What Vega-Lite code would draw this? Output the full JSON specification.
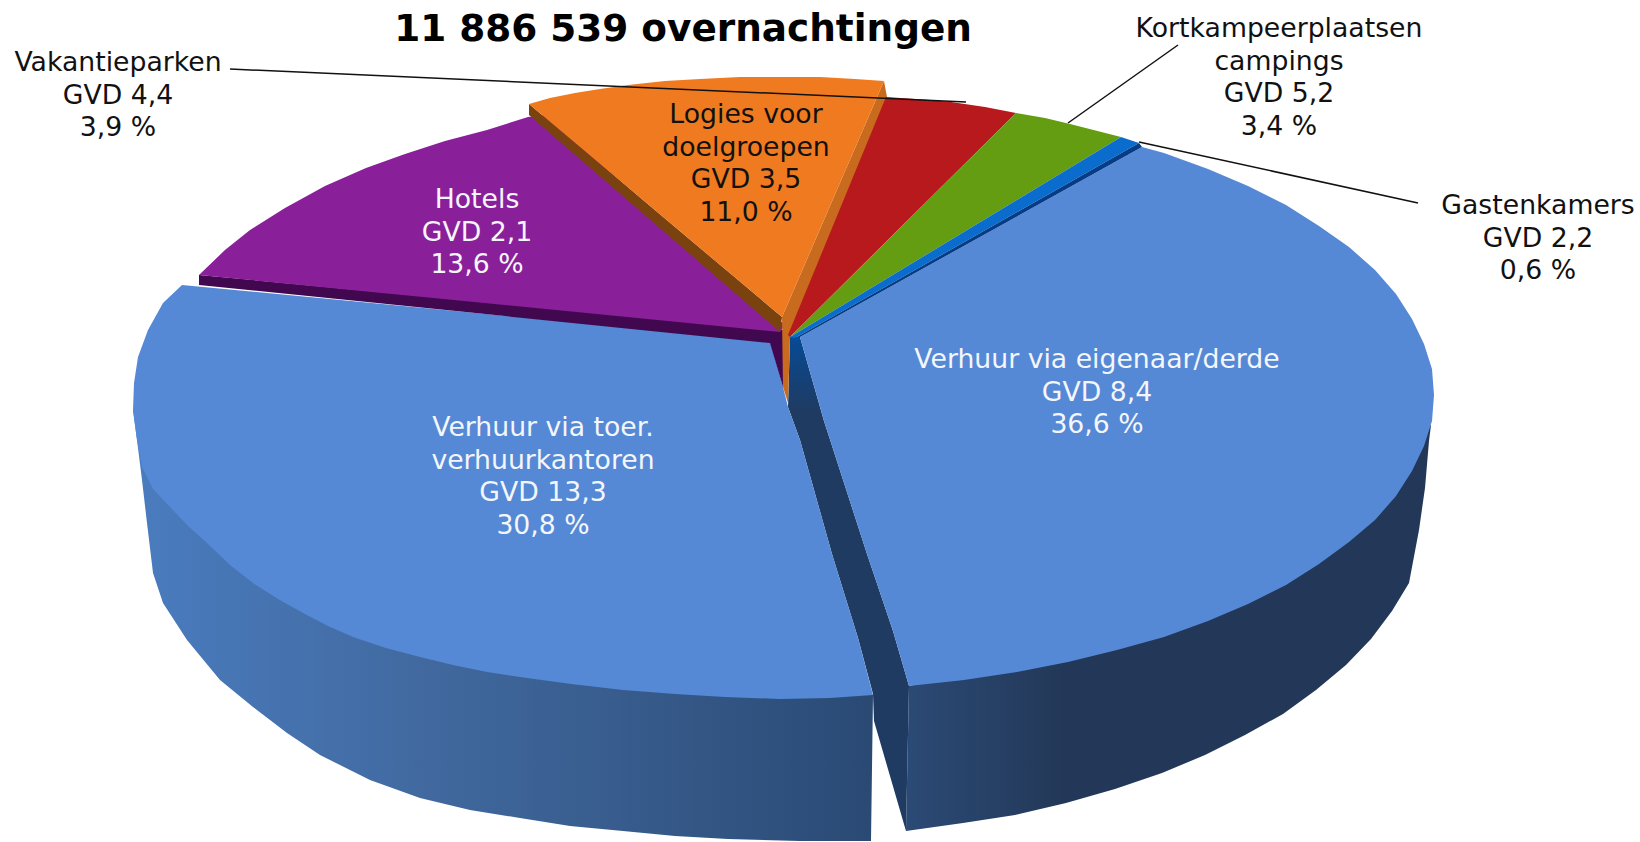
{"$schema":"https://vega.github.io/schema/vega-lite/v6.json","autosize":{"type":"fit","contains":"padding"},"width":1640,"height":842,"padding":0,"background":"white","config":{"view":{"stroke":null}},
"datasets":{
"slices":[
{"slice":"Verhuur via toer. verhuurkantoren","gvd":13.3,"share":30.8,"label":"Verhuur via toer.\nverhuurkantoren\nGVD 13,3\n30,8 %","x":543,"y":428,"tone":"light"},
{"slice":"Verhuur via eigenaar/derde","gvd":8.4,"share":36.6,"label":"Verhuur via eigenaar/derde\nGVD 8,4\n36,6 %","x":1097,"y":360,"tone":"light"},
{"slice":"Hotels","gvd":2.1,"share":13.6,"label":"Hotels\nGVD 2,1\n13,6 %","x":477,"y":200,"tone":"light"},
{"slice":"Logies voor doelgroepen","gvd":3.5,"share":11.0,"label":"Logies voor\ndoelgroepen\nGVD 3,5\n11,0 %","x":746,"y":115,"tone":"dark"},
{"slice":"Vakantieparken","gvd":4.4,"share":3.9,"label":"Vakantieparken\nGVD 4,4\n3,9 %","x":118,"y":63,"tone":"dark"},
{"slice":"Kortkampeerplaatsen campings","gvd":5.2,"share":3.4,"label":"Kortkampeerplaatsen\ncampings\nGVD 5,2\n3,4 %","x":1279,"y":29,"tone":"dark"},
{"slice":"Gastenkamers","gvd":2.2,"share":0.6,"label":"Gastenkamers\nGVD 2,2\n0,6 %","x":1538,"y":206,"tone":"dark"}
],
"wallLeft":[
{"o":1,"x":133,"y":410},{"o":2,"x":137,"y":440},{"o":3,"x":142,"y":480},{"o":4,"x":147,"y":523},{"o":5,"x":153,"y":573},{"o":6,"x":163,"y":603},{"o":7,"x":187,"y":640},{"o":8,"x":220,"y":680},{"o":9,"x":253,"y":707},{"o":10,"x":287,"y":733},{"o":11,"x":320,"y":755},{"o":12,"x":370,"y":780},{"o":13,"x":420,"y":798},{"o":14,"x":470,"y":810},{"o":15,"x":520,"y":818},{"o":16,"x":570,"y":826},{"o":17,"x":623,"y":831},{"o":18,"x":675,"y":836},{"o":19,"x":728,"y":839},{"o":20,"x":800,"y":841},{"o":21,"x":871,"y":841},{"o":22,"x":873,"y":695},{"o":23,"x":780,"y":690},{"o":24,"x":500,"y":600}],
"wallRight":[
{"o":1,"x":1431,"y":425},{"o":2,"x":1429,"y":441},{"o":3,"x":1425,"y":488},{"o":4,"x":1419,"y":530},{"o":5,"x":1409,"y":583},{"o":6,"x":1392,"y":611},{"o":7,"x":1371,"y":639},{"o":8,"x":1346,"y":665},{"o":9,"x":1316,"y":690},{"o":10,"x":1283,"y":714},{"o":11,"x":1245,"y":735},{"o":12,"x":1205,"y":755},{"o":13,"x":1162,"y":773},{"o":14,"x":1115,"y":789},{"o":15,"x":1066,"y":803},{"o":16,"x":1015,"y":815},{"o":17,"x":963,"y":823},{"o":18,"x":906,"y":831},{"o":19,"x":909,"y":686},{"o":20,"x":1100,"y":640}],
"cut":[
{"o":1,"x":790,"y":337},{"o":2,"x":800,"y":337},{"o":3,"x":824,"y":421},{"o":4,"x":867,"y":554},{"o":5,"x":893,"y":631},{"o":6,"x":909,"y":686},{"o":7,"x":906,"y":831},{"o":8,"x":874,"y":721},{"o":9,"x":873,"y":694},{"o":10,"x":858,"y":638},{"o":11,"x":832,"y":554},{"o":12,"x":800,"y":440},{"o":13,"x":788,"y":407}],
"faces":[
{"part":"a toer","o":1,"x":182,"y":285},{"part":"a toer","o":2,"x":770,"y":341},{"part":"a toer","o":3,"x":783,"y":387},{"part":"a toer","o":4,"x":788,"y":407},{"part":"a toer","o":5,"x":800,"y":440},{"part":"a toer","o":6,"x":832,"y":554},{"part":"a toer","o":7,"x":858,"y":638},{"part":"a toer","o":8,"x":873,"y":695},{"part":"a toer","o":9,"x":830,"y":698},{"part":"a toer","o":10,"x":780,"y":699},{"part":"a toer","o":11,"x":725,"y":697},{"part":"a toer","o":12,"x":675,"y":694},{"part":"a toer","o":13,"x":623,"y":690},{"part":"a toer","o":14,"x":571,"y":684},{"part":"a toer","o":15,"x":520,"y":677},{"part":"a toer","o":16,"x":487,"y":672},{"part":"a toer","o":17,"x":453,"y":665},{"part":"a toer","o":18,"x":420,"y":657},{"part":"a toer","o":19,"x":386,"y":648},{"part":"a toer","o":20,"x":353,"y":637},{"part":"a toer","o":21,"x":328,"y":626},{"part":"a toer","o":22,"x":303,"y":613},{"part":"a toer","o":23,"x":278,"y":599},{"part":"a toer","o":24,"x":253,"y":583},{"part":"a toer","o":25,"x":230,"y":565},{"part":"a toer","o":26,"x":207,"y":543},{"part":"a toer","o":27,"x":188,"y":526},{"part":"a toer","o":28,"x":170,"y":507},{"part":"a toer","o":29,"x":153,"y":489},{"part":"a toer","o":30,"x":142,"y":467},{"part":"a toer","o":31,"x":137,"y":440},{"part":"a toer","o":32,"x":133,"y":410},{"part":"a toer","o":33,"x":134,"y":383},{"part":"a toer","o":34,"x":138,"y":357},{"part":"a toer","o":35,"x":148,"y":330},{"part":"a toer","o":36,"x":163,"y":303},
{"part":"b eigenaar","o":1,"x":800,"y":337},{"part":"b eigenaar","o":2,"x":1142,"y":147},{"part":"b eigenaar","o":3,"x":1164,"y":153},{"part":"b eigenaar","o":4,"x":1208,"y":169},{"part":"b eigenaar","o":5,"x":1248,"y":186},{"part":"b eigenaar","o":6,"x":1286,"y":205},{"part":"b eigenaar","o":7,"x":1319,"y":226},{"part":"b eigenaar","o":8,"x":1349,"y":247},{"part":"b eigenaar","o":9,"x":1375,"y":270},{"part":"b eigenaar","o":10,"x":1396,"y":294},{"part":"b eigenaar","o":11,"x":1412,"y":319},{"part":"b eigenaar","o":12,"x":1424,"y":344},{"part":"b eigenaar","o":13,"x":1432,"y":369},{"part":"b eigenaar","o":14,"x":1434,"y":395},{"part":"b eigenaar","o":15,"x":1432,"y":421},{"part":"b eigenaar","o":16,"x":1424,"y":446},{"part":"b eigenaar","o":17,"x":1412,"y":471},{"part":"b eigenaar","o":18,"x":1396,"y":496},{"part":"b eigenaar","o":19,"x":1375,"y":520},{"part":"b eigenaar","o":20,"x":1349,"y":542},{"part":"b eigenaar","o":21,"x":1319,"y":564},{"part":"b eigenaar","o":22,"x":1286,"y":585},{"part":"b eigenaar","o":23,"x":1248,"y":604},{"part":"b eigenaar","o":24,"x":1208,"y":621},{"part":"b eigenaar","o":25,"x":1164,"y":637},{"part":"b eigenaar","o":26,"x":1117,"y":650},{"part":"b eigenaar","o":27,"x":1068,"y":662},{"part":"b eigenaar","o":28,"x":1017,"y":672},{"part":"b eigenaar","o":29,"x":964,"y":680},{"part":"b eigenaar","o":30,"x":909,"y":686},{"part":"b eigenaar","o":31,"x":893,"y":631},{"part":"b eigenaar","o":32,"x":867,"y":554},{"part":"b eigenaar","o":33,"x":824,"y":421},
{"part":"c hotels zijkant","o":1,"x":199,"y":275},{"part":"c hotels zijkant","o":2,"x":199,"y":285},{"part":"c hotels zijkant","o":3,"x":770,"y":343},{"part":"c hotels zijkant","o":4,"x":783,"y":387},{"part":"c hotels zijkant","o":5,"x":783,"y":330},
{"part":"d hotels","o":1,"x":199,"y":275},{"part":"d hotels","o":2,"x":225,"y":250},{"part":"d hotels","o":3,"x":250,"y":230},{"part":"d hotels","o":4,"x":285,"y":208},{"part":"d hotels","o":5,"x":325,"y":186},{"part":"d hotels","o":6,"x":366,"y":168},{"part":"d hotels","o":7,"x":405,"y":154},{"part":"d hotels","o":8,"x":445,"y":141},{"part":"d hotels","o":9,"x":487,"y":130},{"part":"d hotels","o":10,"x":528,"y":117},{"part":"d hotels","o":11,"x":545,"y":115},{"part":"d hotels","o":12,"x":785,"y":325},{"part":"d hotels","o":13,"x":780,"y":332},
{"part":"e logies zijkant","o":1,"x":884,"y":81},{"part":"e logies zijkant","o":2,"x":887,"y":97},{"part":"e logies zijkant","o":3,"x":790,"y":338},{"part":"e logies zijkant","o":4,"x":788,"y":403},{"part":"e logies zijkant","o":5,"x":783,"y":387},{"part":"e logies zijkant","o":6,"x":782,"y":317},
{"part":"f logies rand","o":1,"x":529,"y":104},{"part":"f logies rand","o":2,"x":529,"y":115},{"part":"f logies rand","o":3,"x":780,"y":332},{"part":"f logies rand","o":4,"x":782,"y":317},
{"part":"g logies","o":1,"x":529,"y":104},{"part":"g logies","o":2,"x":550,"y":98},{"part":"g logies","o":3,"x":575,"y":93},{"part":"g logies","o":4,"x":600,"y":89},{"part":"g logies","o":5,"x":628,"y":85},{"part":"g logies","o":6,"x":665,"y":81},{"part":"g logies","o":7,"x":700,"y":79},{"part":"g logies","o":8,"x":740,"y":77},{"part":"g logies","o":9,"x":780,"y":77},{"part":"g logies","o":10,"x":820,"y":77},{"part":"g logies","o":11,"x":855,"y":79},{"part":"g logies","o":12,"x":884,"y":81},{"part":"g logies","o":13,"x":782,"y":317},
{"part":"h vakantieparken","o":1,"x":886,"y":97},{"part":"h vakantieparken","o":2,"x":930,"y":100},{"part":"h vakantieparken","o":3,"x":951,"y":102},{"part":"h vakantieparken","o":4,"x":985,"y":107},{"part":"h vakantieparken","o":5,"x":1016,"y":113},{"part":"h vakantieparken","o":6,"x":790,"y":337},{"part":"h vakantieparken","o":7,"x":788,"y":335},
{"part":"i kortkamp","o":1,"x":1016,"y":113},{"part":"i kortkamp","o":2,"x":1045,"y":118},{"part":"i kortkamp","o":3,"x":1070,"y":124},{"part":"i kortkamp","o":4,"x":1121,"y":137},{"part":"i kortkamp","o":5,"x":790,"y":337},
{"part":"j gastenkamers","o":1,"x":1121,"y":137},{"part":"j gastenkamers","o":2,"x":1139,"y":143},{"part":"j gastenkamers","o":3,"x":795,"y":338},{"part":"j gastenkamers","o":4,"x":790,"y":337},
{"part":"k gastenkamers rand","o":1,"x":1139,"y":143},{"part":"k gastenkamers rand","o":2,"x":1142,"y":147},{"part":"k gastenkamers rand","o":3,"x":800,"y":337},{"part":"k gastenkamers rand","o":4,"x":795,"y":338}
],
"leaders":[
{"to":"Vakantieparken","o":1,"x":230,"y":69},{"to":"Vakantieparken","o":2,"x":966,"y":102},
{"to":"Kortkampeerplaatsen","o":1,"x":1178,"y":45},{"to":"Kortkampeerplaatsen","o":2,"x":1068,"y":123},
{"to":"Gastenkamers","o":1,"x":1139,"y":142},{"to":"Gastenkamers","o":2,"x":1418,"y":203}
],
"title":[{"text":"11 886 539 overnachtingen","x":683,"y":30}]
},
"layer":[
{"data":{"name":"wallLeft"},"mark":{"type":"line","interpolate":"linear-closed","fill":{"gradient":"linear","x1":0,"x2":1,"y1":0,"y2":0,"stops":[{"offset":0,"color":"#4a7cbf"},{"offset":0.4,"color":"#41699f"},{"offset":1,"color":"#2a4a74"}]},"strokeWidth":0},"encoding":{"x":{"field":"x","type":"quantitative","scale":{"domain":[0,1640]},"axis":null},"y":{"field":"y","type":"quantitative","scale":{"domain":[842,0]},"axis":null},"order":{"field":"o"}}},
{"data":{"name":"wallRight"},"mark":{"type":"line","interpolate":"linear-closed","fill":{"gradient":"linear","x1":0,"x2":1,"y1":0,"y2":0,"stops":[{"offset":0,"color":"#2b4a75"},{"offset":0.3,"color":"#233858"},{"offset":1,"color":"#233858"}]},"strokeWidth":0},"encoding":{"x":{"field":"x","type":"quantitative","scale":{"domain":[0,1640]},"axis":null},"y":{"field":"y","type":"quantitative","scale":{"domain":[842,0]},"axis":null},"order":{"field":"o"}}},
{"data":{"name":"cut"},"mark":{"type":"line","interpolate":"linear-closed","fill":{"gradient":"linear","x1":0,"x2":0,"y1":0,"y2":1,"stops":[{"offset":0,"color":"#064a96"},{"offset":0.15,"color":"#1f3b62"},{"offset":1,"color":"#1f3b62"}]},"strokeWidth":0},"encoding":{"x":{"field":"x","type":"quantitative","scale":{"domain":[0,1640]},"axis":null},"y":{"field":"y","type":"quantitative","scale":{"domain":[842,0]},"axis":null},"order":{"field":"o"}}},
{"data":{"name":"faces"},"mark":{"type":"line","interpolate":"linear-closed","filled":true,"strokeWidth":0},"encoding":{"x":{"field":"x","type":"quantitative","scale":{"domain":[0,1640]},"axis":null},"y":{"field":"y","type":"quantitative","scale":{"domain":[842,0]},"axis":null},"order":{"field":"o"},"color":{"field":"part","type":"nominal","legend":null,"scale":{"domain":["a toer","b eigenaar","c hotels zijkant","d hotels","e logies zijkant","f logies rand","g logies","h vakantieparken","i kortkamp","j gastenkamers","k gastenkamers rand"],"range":["#5589d5","#5589d5","#42084f","#892099","#c96b1e","#7a420f","#ef7a1f","#b7191c","#649c12","#0a6ccc","#043c88"]}}}},
{"data":{"name":"leaders"},"mark":{"type":"line","color":"#111111","strokeWidth":1.5},"encoding":{"x":{"field":"x","type":"quantitative","scale":{"domain":[0,1640]},"axis":null},"y":{"field":"y","type":"quantitative","scale":{"domain":[842,0]},"axis":null},"order":{"field":"o"},"detail":{"field":"to"}}},
{"data":{"name":"slices"},"mark":{"type":"text","font":"DejaVu Sans","fontSize":26.7,"lineBreak":"\n","lineHeight":32.7,"align":"center","baseline":"middle"},"encoding":{"x":{"field":"x","type":"quantitative","scale":{"domain":[0,1640]},"axis":null},"y":{"field":"y","type":"quantitative","scale":{"domain":[842,0]},"axis":null},"text":{"field":"label"},"color":{"field":"tone","type":"nominal","legend":null,"scale":{"domain":["light","dark"],"range":["#f4f6fb","#111111"]}}}},
{"data":{"name":"title"},"mark":{"type":"text","font":"DejaVu Sans","fontWeight":"bold","fontSize":37.4,"align":"center","baseline":"middle","color":"#000000"},"encoding":{"x":{"field":"x","type":"quantitative","scale":{"domain":[0,1640]},"axis":null},"y":{"field":"y","type":"quantitative","scale":{"domain":[842,0]},"axis":null},"text":{"field":"text"}}}
],
"resolve":{"scale":{"color":"independent"}}
}
